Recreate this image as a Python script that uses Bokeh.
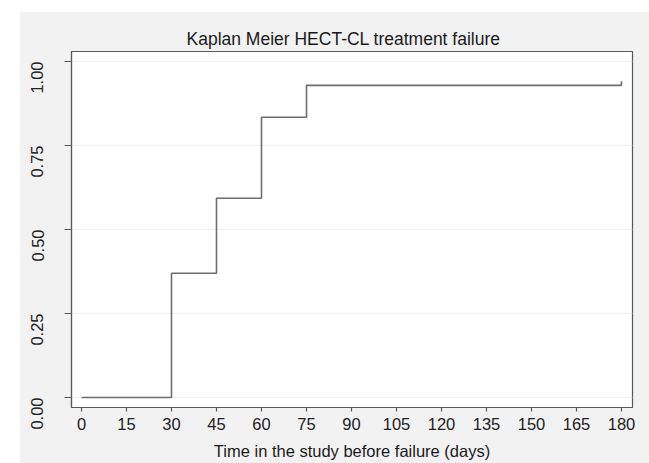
from bokeh.plotting import figure
from bokeh.models import Range1d, FixedTicker
from bokeh.embed import file_html
from bokeh.resources import INLINE
import math

# Data
times = [0, 30, 45, 60, 75, 180]
failure = [0.0, 0.37, 0.593, 0.834, 0.929, 0.941]
x_ticks = [0, 15, 30, 45, 60, 75, 90, 105, 120, 135, 150, 165, 180]
y_ticks = [0.0, 0.25, 0.5, 0.75, 1.0]
y_tick_labels = {0.0: "0.00", 0.25: "0.25", 0.5: "0.50", 0.75: "0.75", 1.0: "1.00"}

FONT = "Liberation Sans"

p = figure(width=630, height=452, output_backend="svg", toolbar_location=None,
           x_range=Range1d(-3.33, 183.67), y_range=Range1d(-0.0298, 1.0298),
           min_border_left=52, min_border_right=17, min_border_top=40, min_border_bottom=56,
           title="Kaplan Meier HECT-CL treatment failure")
p.margin = (11, 0, 0, 19)

p.background_fill_color = "white"
p.border_fill_color = "#f2f2f2"
p.outline_line_color = "#5a5a5a"
p.outline_line_width = 1.2

p.title.align = "left"
p.title.offset = 115
p.title.text_font = FONT
p.title.text_font_size = "17.5px"
p.title.text_font_style = "normal"
p.title.text_color = "#1a1a1a"
p.title.standoff = 5

p.step(times, failure, mode="after", line_color="#6e6e6e", line_width=1.6)

p.xaxis.ticker = FixedTicker(ticks=x_ticks)
p.xaxis.minor_tick_line_color = None
p.xaxis.major_tick_in = 0
p.xaxis.major_tick_out = 4
p.xaxis.major_label_standoff = 6
p.xaxis.axis_label = "Time in the study before failure (days)"
p.xaxis.axis_label_standoff = 9

p.yaxis.ticker = FixedTicker(ticks=y_ticks)
p.yaxis.major_label_overrides = y_tick_labels
p.yaxis.minor_tick_line_color = None
p.yaxis.major_tick_in = 0
p.yaxis.major_tick_out = 7
p.yaxis.major_label_orientation = math.pi / 2
p.yaxis.major_label_standoff = 27

for ax in (p.xaxis, p.yaxis):
    ax.axis_line_color = "#5a5a5a"
    ax.axis_line_width = 1.2
    ax.major_tick_line_color = "#5a5a5a"
    ax.major_tick_line_width = 1.2
    ax.major_label_text_font = FONT
    ax.major_label_text_font_size = "16.5px"
    ax.major_label_text_color = "#222222"
    ax.axis_label_text_font = FONT
    ax.axis_label_text_font_size = "16.5px"
    ax.axis_label_text_font_style = "normal"
    ax.axis_label_text_color = "#1a1a1a"

p.xgrid.grid_line_color = None
p.ygrid.ticker = FixedTicker(ticks=y_ticks)
p.ygrid.grid_line_color = "#efefef"
p.ygrid.grid_line_width = 1.2

open("out.html", "w").write(file_html(p, INLINE))
